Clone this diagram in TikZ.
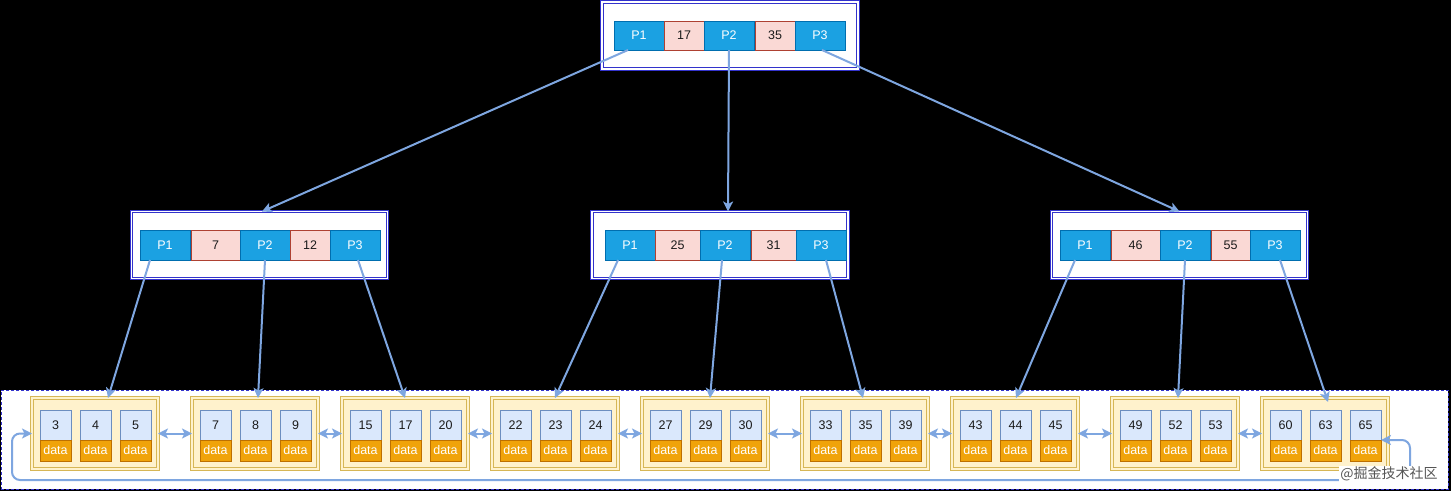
\documentclass[tikz,border=0pt]{standalone}
\usepackage{fontspec}
\setmainfont{Liberation Sans}
\newfontfamily\cjkfont{Noto Sans CJK SC}
\usetikzlibrary{arrows.meta,calc}
\definecolor{pfill}{HTML}{1BA1E2}
\definecolor{pdraw}{HTML}{006EAF}
\definecolor{kfill}{HTML}{FAD9D5}
\definecolor{kdraw}{HTML}{AE4132}
\definecolor{boxblue}{HTML}{3333CC}
\definecolor{leaffill}{HTML}{FFF2CC}
\definecolor{leafdraw}{HTML}{D6B656}
\definecolor{keyfill}{HTML}{DAE8FC}
\definecolor{keydraw}{HTML}{6C8EBF}
\definecolor{datafill}{HTML}{F0A30A}
\definecolor{datadraw}{HTML}{BD7000}
\definecolor{connc}{HTML}{7EA6E0}
\definecolor{txt}{HTML}{1A1A1A}
\definecolor{wmgray}{HTML}{555555}
\begin{document}
\begin{tikzpicture}[x=1pt,y=-1pt,
  cell/.style={inner sep=0pt, outer sep=0pt, line width=1pt, font=\fontsize{12.5}{14}\selectfont},
  pcell/.style={cell, fill=pfill, draw=pdraw, text=white, minimum width=50pt},
  kcell/.style={cell, fill=kfill, draw=kdraw, text=txt},
  ibox/.style={draw=boxblue, double=white, double distance=1.5pt, line width=1.2pt, fill=white,
    minimum width=256pt, minimum height=67pt, inner sep=0pt, outer sep=0pt},
  leafbox/.style={draw=leafdraw, double=leaffill, double distance=1.5pt, line width=1.1pt, fill=leaffill,
    minimum width=126pt, minimum height=71pt, inner sep=0pt, outer sep=0pt},
  lkey/.style={cell, fill=keyfill, draw=keydraw, text=txt, minimum width=31pt, minimum height=30pt},
  ldata/.style={cell, fill=datafill, draw=datadraw, text=white, minimum width=31pt, minimum height=21pt,
    font=\fontsize{12.5}{14}\selectfont},
  tipc/.tip={Stealth[length=10pt,width=10pt,inset=2.5pt]},
  conn/.style={draw=connc, line width=2pt, -tipc},
  biconn/.style={draw=connc, line width=2pt, tipc-tipc},
  area/.style={draw=boxblue, line width=0.9pt, dash pattern=on 3pt off 2pt, fill=white, inner sep=0pt}
]
\fill[black] (0,0) rectangle (1451,491);
\useasboundingbox (0,0) rectangle (1451,491);

% top node
\node[ibox] (top) at (730,35.5) {};
\begin{scope}[every node/.append style={minimum height=29pt}]
\node[pcell] (tP1) at (639,35.5) {P1};
\node[kcell, minimum width=40pt] (tK1) at (684,35.5) {17};
\node[pcell] (tP2) at (729,35.5) {P2};
\node[kcell, minimum width=40pt] (tK2) at (775,35.5) {35};
\node[pcell] (tP3) at (820,35.5) {P3};
\end{scope}

% middle nodes
\node[ibox] (mL) at (259.5,245) {};
\node[ibox] (mC) at (720,245) {};
\node[ibox] (mR) at (1179.5,245) {};
\begin{scope}[every node/.append style={minimum height=30pt}]
\node[pcell] (lP1) at (165,245) {P1};
\node[kcell, minimum width=49pt] (lK1) at (215.5,245) {7};
\node[pcell] (lP2) at (265,245) {P2};
\node[kcell, minimum width=40pt] (lK2) at (310,245) {12};
\node[pcell] (lP3) at (355,245) {P3};

\node[pcell] (cP1) at (630,245) {P1};
\node[kcell, minimum width=45pt] (cK1) at (677.5,245) {25};
\node[pcell] (cP2) at (725,245) {P2};
\node[kcell, minimum width=45pt] (cK2) at (773.5,245) {31};
\node[pcell] (cP3) at (821,245) {P3};

\node[pcell] (rP1) at (1085,245) {P1};
\node[kcell, minimum width=49pt] (rK1) at (1135.5,245) {46};
\node[pcell] (rP2) at (1185,245) {P2};
\node[kcell, minimum width=39pt] (rK2) at (1230.5,245) {55};
\node[pcell] (rP3) at (1275,245) {P3};
\end{scope}

% leaf area
\node[area, minimum width=1447pt, minimum height=99pt] (leafarea) at (724.5,439.5) {};

\foreach \i/\lx/\a/\b/\c in {1/30/3/4/5, 2/190/7/8/9, 3/340/15/17/20, 4/490/22/23/24,
    5/640/27/29/30, 6/800/33/35/39, 7/950/43/44/45, 8/1110/49/52/53, 9/1260/60/63/65}{
  \node[leafbox] (lf\i) at ({\lx+65},433.5) {};
  \foreach \v/\s [count=\n from 0] in {\a/a,\b/b,\c/c}{
    \node[lkey] (k\i\s) at ({\lx+25.5+40*\n},425) {\v};
    \node[ldata] (d\i\s) at ({\lx+25.5+40*\n},450.5) {data};
  }
}

% top -> middle
\draw[conn] ([xshift=-11pt]tP1.south) -- ([xshift=2.5pt]mL.north);
\draw[conn] (tP2.south) -- ([xshift=8pt]mC.north);
\draw[conn] ([xshift=2pt]tP3.south) -- (mR.north);

% middle -> leaves
\draw[conn] ([xshift=-15pt]lP1.south) -- ([xshift=13pt]lf1.north);
\draw[conn] (lP2.south) -- ([xshift=3pt]lf2.north);
\draw[conn] ([xshift=3pt]lP3.south) -- (lf3.north);
\draw[conn] ([xshift=-12pt]cP1.south) -- (lf4.north);
\draw[conn] ([xshift=-3pt]cP2.south) -- ([xshift=5pt]lf5.north);
\draw[conn] ([xshift=5pt]cP3.south) -- ([xshift=-2pt]lf6.north);
\draw[conn] ([xshift=-10pt]rP1.south) -- ([xshift=1pt]lf7.north);
\draw[conn] (rP2.south) -- ([xshift=3pt]lf8.north);
\draw[conn] ([xshift=5pt]rP3.south) -- ([xshift=3pt,yshift=-4pt]lf9.north);

% leaf links
\foreach \i [evaluate=\i as \j using int(\i+1)] in {1,...,8}
  \draw[biconn] (lf\i.east) -- (lf\j.west);

% loop from last leaf back to first
\draw[biconn, rounded corners=8pt] (lf1.west) -- (12,433.5) -- (12,480) -- (1410,480) -- (1410,440) -- (k9c.south east);

% watermark
\node[font=\cjkfont\fontsize{14}{16}\selectfont, text=wmgray, fill=white, inner sep=1pt] (wm) at (1389,474) {@掘金技术社区};
\end{tikzpicture}
\end{document}
